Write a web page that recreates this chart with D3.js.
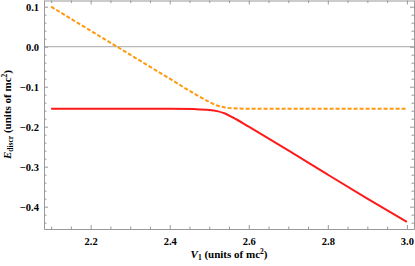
<!DOCTYPE html>
<html>
<head>
<meta charset="utf-8">
<script src="https://cdn.jsdelivr.net/npm/d3@7"></script>
<style>
  body { margin: 0; background: #fff; }
  text { font-family: "Liberation Serif", "Times New Roman", serif; font-weight: bold; }
</style>
</head>
<body>
<div id="chart"></div>
<script>
// upper level (orange, dashed)
const upperX = [2.10, 2.20, 2.30, 2.40, 2.46, 2.50, 2.52, 2.54, 2.56, 2.60, 2.80, 3.00];
const upperY = [0.100, 0.040, -0.020, -0.080, -0.116, -0.138, -0.147, -0.152, -0.154, -0.155, -0.155, -0.155];
// lower level (red, solid)
const lowerX = [2.10, 2.30, 2.40, 2.46, 2.50, 2.52, 2.54, 2.56, 2.60, 2.70, 2.80, 2.90, 3.00];
const lowerY = [-0.155, -0.155, -0.155, -0.156, -0.158, -0.161, -0.167, -0.177, -0.200, -0.259, -0.320, -0.380, -0.438];

const xTicks = [2.2, 2.4, 2.6, 2.8, 3.0];
const yTicks = [0.1, 0.0, -0.1, -0.2, -0.3, -0.4];

const W = 415, H = 266;
const svg = d3.select('#chart').append('svg').attr('width', W).attr('height', H);

const margin = {left: 44, right: 414, top: 0, bottom: 229};

const x = d3.scaleLinear().domain([2.082, 3.018]).range([margin.left, margin.right]);
const y = d3.scaleLinear().domain([-0.4558, 0.1168]).range([margin.bottom, margin.top]);

const fmt = d => (d < 0 ? '\u2212' : '') + Math.abs(d).toFixed(1);

// zero line
svg.append('line')
    .attr('x1', margin.left).attr('x2', margin.right)
    .attr('y1', y(0)).attr('y2', y(0))
    .attr('stroke', '#a6a6a6').attr('stroke-width', 1);

// minor ticks
const xMinor = d3.range(2.1, 3.01, 0.05).filter(v => !xTicks.some(t => Math.abs(t - v) < 1e-6));
const yMinor = d3.range(-0.44, 0.111, 0.02).filter(v => !yTicks.some(t => Math.abs(t - v) < 1e-6));

function frameAxis(axisFn, scale, ticks, minor, transform, labels) {
    const g = svg.append('g').attr('transform', transform);
    g.call(axisFn(scale).tickValues(ticks).tickSizeInner(-4).tickSizeOuter(0)
        .tickFormat(labels ? fmt : ''));
    g.append('g').call(axisFn(scale).tickValues(minor).tickSizeInner(-2.5).tickSizeOuter(0).tickFormat(''))
        .select('.domain').remove();
    g.selectAll('.domain, line').attr('stroke', '#999').attr('stroke-width', 1);
    g.selectAll('text').attr('font-size', 10.5).attr('fill', '#000');
    return g;
}

frameAxis(d3.axisBottom, x, xTicks, xMinor, `translate(0,${margin.bottom})`, true)
    .selectAll('text').attr('dy', '1.25em');
frameAxis(d3.axisTop, x, xTicks, xMinor, `translate(0,${margin.top + 0.5})`, false);
frameAxis(d3.axisLeft, y, yTicks, yMinor, `translate(${margin.left},0)`, true)
    .selectAll('text').attr('x', -5);
frameAxis(d3.axisRight, y, yTicks, yMinor, `translate(${margin.right},0)`, false);

const line = d3.line()
    .x(d => x(d[0]))
    .y(d => y(d[1]))
    .curve(d3.curveMonotoneX);

svg.append('path')
    .datum(lowerX.map((v, i) => [v, lowerY[i]]))
    .attr('fill', 'none')
    .attr('stroke', '#ff1a1a')
    .attr('stroke-width', 2)
    .attr('d', line);

svg.append('path')
    .datum(upperX.map((v, i) => [v, upperY[i]]))
    .attr('fill', 'none')
    .attr('stroke', '#ff9910')
    .attr('stroke-width', 2)
    .attr('stroke-dasharray', '4,2')
    .attr('d', line);

// axis labels
const xl = svg.append('text')
    .attr('x', (margin.left + margin.right) / 2).attr('y', 258)
    .attr('text-anchor', 'middle').attr('font-size', 11);
xl.append('tspan').attr('font-style', 'italic').text('V');
xl.append('tspan').attr('font-size', 7.5).attr('dy', 2).text('1');
xl.append('tspan').attr('dy', -2).text(' (units of mc');
xl.append('tspan').attr('font-size', 7.5).attr('dy', -4.5).text('2');
xl.append('tspan').attr('dy', 4.5).text(')');

const yl = svg.append('text')
    .attr('transform', `translate(11,${(margin.top + margin.bottom) / 2}) rotate(-90)`)
    .attr('text-anchor', 'middle').attr('font-size', 11);
yl.append('tspan').attr('font-style', 'italic').text('E');
yl.append('tspan').attr('font-size', 7.5).attr('dy', 2).text('discr');
yl.append('tspan').attr('dy', -2).text(' (units of mc');
yl.append('tspan').attr('font-size', 7.5).attr('dy', -4.5).text('2');
yl.append('tspan').attr('dy', 4.5).text(')');
</script>
</body>
</html>
